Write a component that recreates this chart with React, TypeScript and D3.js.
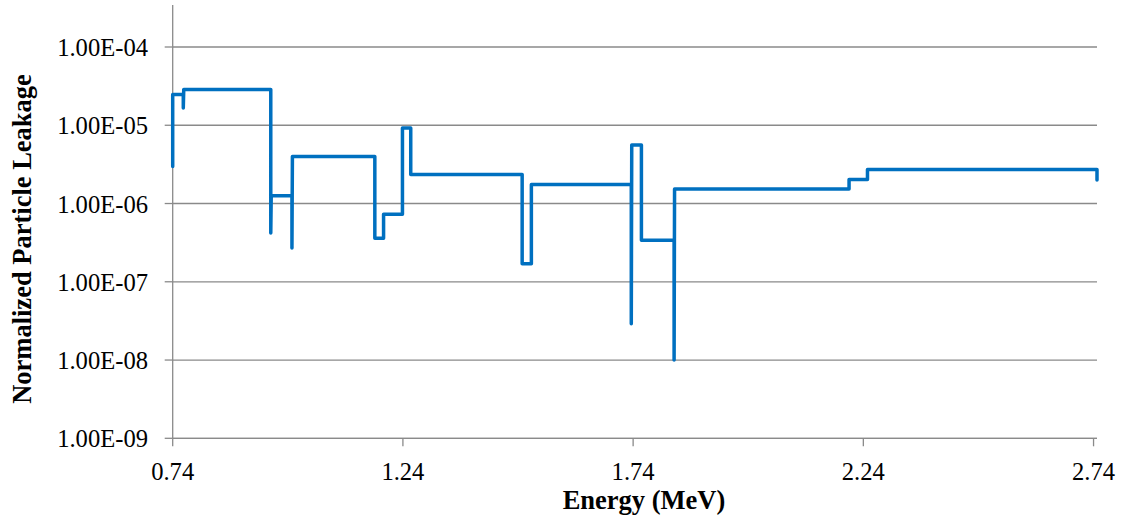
import React from "react";
import * as d3 from "d3";

const width = 1128;
const height = 516;
const margin = { top: 5, right: 31, bottom: 78, left: 172.7 };

// step outline of the leakage spectrum (bin edges repeated for vertical jumps)
const energy = [
  0.74, 0.74, 0.763, 0.763, 0.764, 0.953, 0.953, 0.954, 0.999, 0.999, 1.0,
  1.179, 1.179, 1.198, 1.198, 1.239, 1.239, 1.257, 1.257, 1.499, 1.499,
  1.519, 1.519, 1.736, 1.736, 1.737, 1.758, 1.758, 1.829, 1.829, 1.83,
  2.209, 2.209, 2.249, 2.249, 2.7475, 2.7475
];
const leakage = [
  2.97e-6, 2.47e-5, 2.47e-5, 1.66e-5, 2.86e-5, 2.86e-5, 4.2e-7, 1.26e-6,
  1.26e-6, 2.7e-7, 4.0e-6, 4.0e-6, 3.6e-7, 3.6e-7, 7.3e-7, 7.3e-7, 9.2e-6,
  9.2e-6, 2.35e-6, 2.35e-6, 1.7e-7, 1.7e-7, 1.75e-6, 1.75e-6, 2.9e-8,
  5.6e-6, 5.6e-6, 3.4e-7, 3.4e-7, 1.0e-8, 1.53e-6, 1.53e-6, 2.03e-6,
  2.03e-6, 2.73e-6, 2.73e-6, 2.0e-6
];

const xTicks = [0.74, 1.24, 1.74, 2.24, 2.74];
const yTicks = [1e-9, 1e-8, 1e-7, 1e-6, 1e-5, 1e-4];
const yTickLabels = ["1.00E-09", "1.00E-08", "1.00E-07", "1.00E-06", "1.00E-05", "1.00E-04"];

const xMax = 2.7475;
const yTop = Math.pow(10, -3.463);

const xScale = d3.scaleLinear().domain([0.74, xMax]).range([margin.left, width - margin.right]);
const yScale = d3.scaleLog().domain([1e-9, 1e-4]).range([438.3, 47]);

const points: [number, number][] = energy.map((e, i) => [e, leakage[i]]);
const line = d3
  .line<[number, number]>()
  .x((d) => xScale(d[0]))
  .y((d) => yScale(d[1]));

const font = "Liberation Serif";
const gray = "#8a8a8a";

export default function App() {
  const x0 = xScale(0.74);
  const x1 = xScale(xMax);
  const yBottom = yScale(1e-9);
  return (
    <svg
      width={width}
      height={height}
      style={{ position: "absolute", left: 0, top: 0, background: "#fff" }}
    >
      {/* gridlines */}
      {yTicks.map((t) => (
        <line key={t} x1={x0} x2={x1} y1={yScale(t)} y2={yScale(t)} stroke={gray} strokeWidth={1.3} />
      ))}

      {/* y axis */}
      <line x1={x0} x2={x0} y1={yScale(yTop)} y2={yBottom} stroke={gray} strokeWidth={1.3} />
      {yTicks.map((t, i) => (
        <g key={t}>
          <line x1={x0 - 8} x2={x0} y1={yScale(t)} y2={yScale(t)} stroke={gray} strokeWidth={1.3} />
          <text x={148} y={yScale(t) + 9} textAnchor="end" fontSize={24.6} fill="#000" style={{ fontFamily: font }}>
            {yTickLabels[i]}
          </text>
        </g>
      ))}

      {/* x axis */}
      <line x1={x0} x2={x1} y1={yBottom} y2={yBottom} stroke={gray} strokeWidth={1.3} />
      {xTicks.map((t) => (
        <g key={t}>
          <line x1={xScale(t)} x2={xScale(t)} y1={yBottom} y2={yBottom + 8} stroke={gray} strokeWidth={1.3} />
          <text x={xScale(t)} y={480} textAnchor="middle" fontSize={24.6} fill="#000" style={{ fontFamily: font }}>
            {t.toFixed(2)}
          </text>
        </g>
      ))}

      {/* series */}
      <path
        d={line(points) || ""}
        fill="none"
        stroke="#0070C0"
        strokeWidth={3.5}
        strokeLinejoin="round"
        strokeLinecap="round"
      />

      {/* titles */}
      <text x={644} y={509} textAnchor="middle" fontSize={26.5} fontWeight="bold" fill="#000" style={{ fontFamily: font }}>
        Energy (MeV)
      </text>
      <text
        transform={`translate(31, 239) rotate(-90)`}
        textAnchor="middle"
        fontSize={26.5}
        fontWeight="bold"
        fill="#000"
        style={{ fontFamily: font }}
      >
        Normalized Particle Leakage
      </text>
    </svg>
  );
}
